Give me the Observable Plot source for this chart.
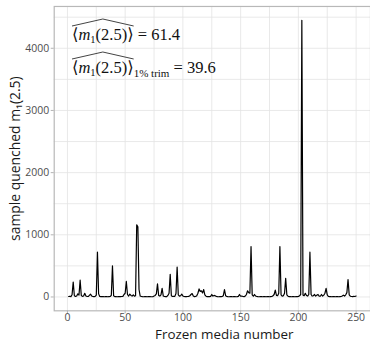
<!DOCTYPE html>
<html>
<head>
<meta charset="utf-8">
<script src="https://cdn.jsdelivr.net/npm/d3@7"></script>
<script src="https://cdn.jsdelivr.net/npm/@observablehq/plot@0.6"></script>
<style>
  html, body { margin: 0; padding: 0; overflow: hidden; background: white; }
  #wrap { position: relative; width: 370px; height: 344px; overflow: hidden; }
  .ann { position: absolute; left: 72px; top: 27px; font-family: "Liberation Serif", "DejaVu Serif", serif; font-size: 16.5px; color: #111; line-height: 1; }
  .ann .line { white-space: nowrap; height: 33px; }
  .hat { position: relative; display: inline-block; }
  .hat svg { position: absolute; left: 0; top: -8px; width: 100%; height: 7px; overflow: visible; }
  .ann sub { font-size: 10.5px; vertical-align: -3px; line-height: 0; }
  .ann .trim { font-size: 11px; vertical-align: -4px; }
</style>
</head>
<body>
<div id="wrap"></div>
<script>
// Frozen media numbers 1..250
const mediaNumber = d3.range(1, 251);
// sample quenched m1(2.5)
const quenched = [
  8,12,6,35,240,20,8,15,50,30,
  270,25,10,15,60,15,10,8,25,45,
  15,8,5,10,30,720,50,8,5,6,
  5,4,6,5,4,6,8,25,500,20,
  6,5,4,5,6,5,8,10,40,60,
  250,40,15,45,25,15,35,12,20,1160,
  1130,120,15,8,5,4,6,5,4,6,
  8,5,4,6,15,25,50,210,25,15,
  35,140,15,8,5,6,25,60,365,20,
  8,12,10,55,480,35,12,20,45,15,
  8,6,5,8,10,20,40,55,15,6,
  8,20,60,130,90,100,65,120,35,12,
  6,8,5,10,40,15,25,20,8,5,
  4,6,5,8,20,120,20,8,5,4,
  6,5,4,6,5,4,6,10,40,12,
  15,8,6,15,40,100,70,60,810,35,
  12,40,15,8,5,4,6,5,4,6,
  5,4,6,5,4,6,8,20,40,110,
  25,20,60,810,35,12,20,60,300,35,
  12,6,5,4,6,5,4,6,5,8,
  20,40,4450,30,20,60,25,15,40,720,
  40,15,20,40,15,30,40,15,12,40,
  15,30,60,140,35,8,6,5,4,6,
  5,4,6,5,4,6,8,15,30,15,
  35,70,280,35,12,8,6,10,8,15
];
const xTicks = [0, 50, 100, 150, 200, 250];
const xGrid = [0, 25, 50, 75, 100, 125, 150, 175, 200, 225, 250];
const yTicks = [0, 1000, 2000, 3000, 4000];
const yGrid = [0, 500, 1000, 1500, 2000, 2500, 3000, 3500, 4000, 4500];
const meanStats = [61.4, 39.6];
const xTitle = "Frozen media number";
const yTitle = "sample quenched m\u2081(2.5)";

const data = mediaNumber.map((n, i) => ({n, m: quenched[i]}));

const chart = Plot.plot({
  width: 372,
  height: 344,
  marginLeft: 54,
  marginRight: 0,
  marginTop: 6,
  marginBottom: 32,
  style: {fontFamily: "'Open Sans', sans-serif", fontSize: "10.5px", background: "white"},
  x: {domain: [-11.45, 262.45], label: null},
  y: {domain: [-222.5, 4672.5], label: null},
  marks: [
    Plot.ruleX(xGrid, {stroke: "#e3e3e3", strokeWidth: 0.8}),
    Plot.ruleY(yGrid, {stroke: "#e3e3e3", strokeWidth: 0.8}),
    Plot.frame({stroke: "#b8b8b8", strokeWidth: 1.2}),
    Plot.axisX(xTicks, {tickSize: 3, tickPadding: 0, stroke: "#b3b3b3", fill: "#4d4d4d", label: null, tickFormat: d => String(d)}),
    Plot.axisY(yTicks, {tickSize: 3, tickPadding: 2, stroke: "#b3b3b3", fill: "#4d4d4d", label: null, tickFormat: d => String(d)}),
    Plot.line(data, {x: "n", y: "m", stroke: "black", strokeWidth: 1.2}),
    Plot.text([xTitle], {frameAnchor: "bottom", textAnchor: "middle", lineAnchor: "bottom", dx: 12, dy: 28, fontSize: 13.5, fill: "#1a1a1a"}),
    Plot.text([yTitle], {frameAnchor: "left", textAnchor: "middle", dx: -39, rotate: -90, fontSize: 14, fill: "#1a1a1a"})
  ]
});
const wrap = document.getElementById("wrap");
wrap.appendChild(chart);

const hatSvg = '<svg viewBox="0 0 100 7" preserveAspectRatio="none"><polyline points="0,7 50,0 100,7" fill="none" stroke="#444" stroke-width="1" vector-effect="non-scaling-stroke"/></svg>';
const expr = '\u27e8<i>m</i><sub>1</sub>(2.5)\u27e9';
const ann = document.createElement("div");
ann.className = "ann";
ann.innerHTML =
  `<div class="line"><span class="hat">${expr}${hatSvg}</span> = ${meanStats[0]}</div>` +
  `<div class="line"><span class="hat">${expr}${hatSvg}</span><span class="trim">1% trim</span> = ${meanStats[1]}</div>`;
wrap.appendChild(ann);
</script>
</body>
</html>
